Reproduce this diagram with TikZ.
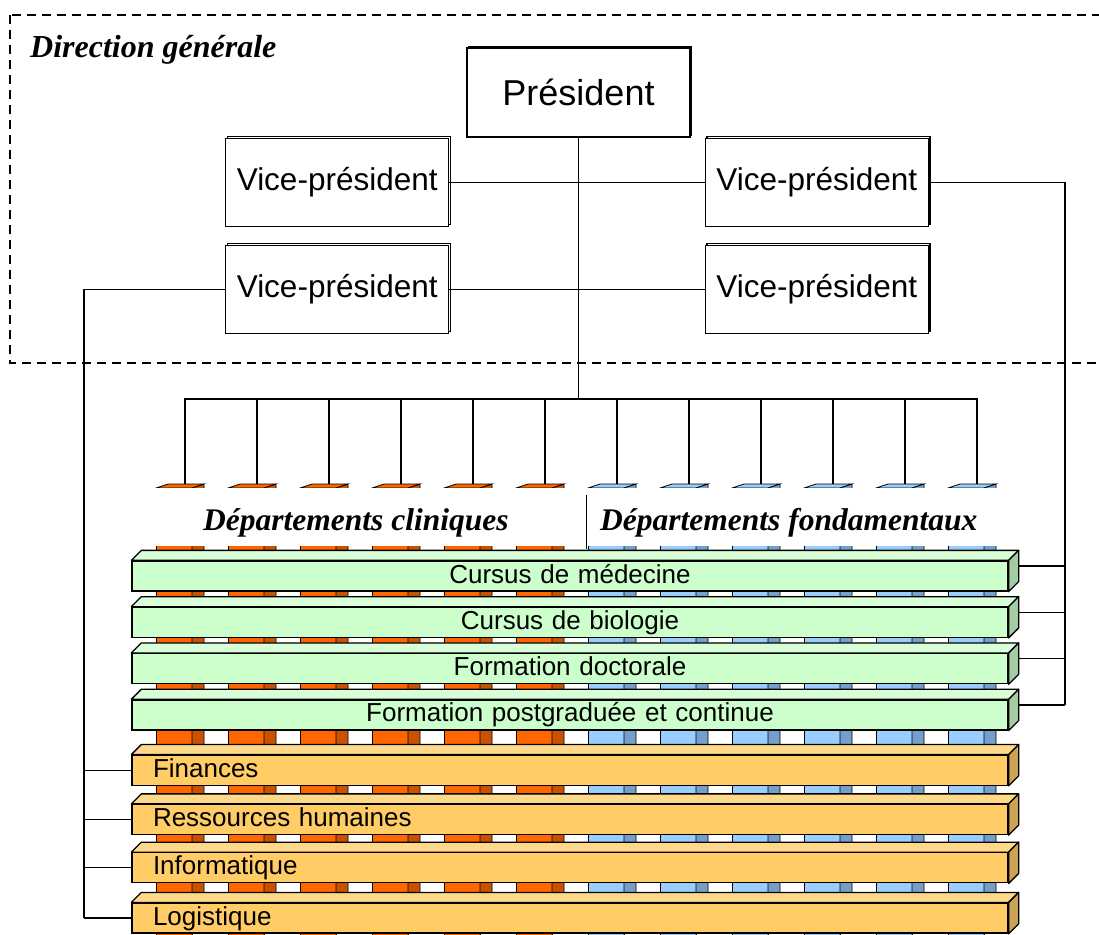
\documentclass[tikz,border=0pt]{standalone}
\usepackage{fontspec}
\setmainfont{Liberation Serif}
\setsansfont{Liberation Sans}
\usetikzlibrary{positioning, shadows}

\definecolor{clinFront}{HTML}{FF6600}
\definecolor{clinSide}{HTML}{C85200}
\definecolor{fondFront}{HTML}{99CCFF}
\definecolor{fondSide}{HTML}{76A0CB}
\definecolor{cursFront}{HTML}{CCFFCC}
\definecolor{cursTop}{HTML}{D8FFD8}
\definecolor{cursSide}{HTML}{A3CCA3}
\definecolor{servFront}{HTML}{FFCC66}
\definecolor{servTop}{HTML}{FFD98A}
\definecolor{servSide}{HTML}{CCA352}

\tikzset{
	chief/.style={draw, fill=white, line width=1.3pt, minimum width=223pt, minimum height=88pt, inner sep=0pt,
		font=\sffamily\fontsize{31.5}{36}\selectfont, copy shadow={shadow xshift=1.8pt, shadow yshift=1.8pt}},
	bar/.style={draw, line width=1.3pt, inner xsep=21pt, inner ysep=0pt, text width=834pt,
		text height=22pt, text depth=8pt, font=\sffamily\fontsize{26}{30}\selectfont},
	curs/.style={bar, fill=cursFront, align=center},
	serv/.style={bar, fill=servFront, align=left},
	dept/.style={inner sep=0pt, anchor=base west, font=\rmfamily\bfseries\itshape\fontsize{31.5}{36}\selectfont},
	link/.style={line width=1.3pt},
	column/.style={line width=0.8pt},
}

\begin{document}
\begin{tikzpicture}[x=1pt, y=-1pt]
	\useasboundingbox (0,0) rectangle (1099,934);
	\clip (0,0) rectangle (1099,934);

	% direction generale
	\draw[line width=1.3pt, dash pattern=on 9pt off 6pt] (10,15) rectangle (1130,363);
	\node[dept, font=\rmfamily\bfseries\itshape\fontsize{32}{36}\selectfont] (dirLabel) at (30,57) {Direction générale};

	\node[chief, minimum height=89pt, font=\sffamily\fontsize{36}{40}\selectfont] (pres) at (578.5,92.5) {Président};
	\node[chief, below left=0pt and 17pt of pres] (vpTL) {Vice-président};
	\node[chief, below right=0pt and 14pt of pres] (vpTR) {Vice-président};
	\node[chief, below=18pt of vpTL] (vpBL) {Vice-président};
	\node[chief, below=18pt of vpTR] (vpBR) {Vice-président};

	% departement columns
	\foreach \x [count=\k] in {156,228,...,516} {
		\filldraw[column, fill=clinFront] (\x,488) rectangle (\x+36,940);
		\filldraw[column, fill=clinFront] (\x,488) -- (\x+12,484) -- (\x+48,484) -- (\x+36,488) -- cycle;
		\filldraw[column, fill=clinSide] (\x+36,488) -- (\x+48,484) -- (\x+48,926) -- (\x+36,934) -- cycle;
		\coordinate (clin\k) at (\x+29,484);
	}
	\foreach \x [count=\k] in {588,660,...,948} {
		\filldraw[column, fill=fondFront] (\x,488) rectangle (\x+36,940);
		\filldraw[column, fill=fondFront] (\x,488) -- (\x+12,484) -- (\x+48,484) -- (\x+36,488) -- cycle;
		\filldraw[column, fill=fondSide] (\x+36,488) -- (\x+48,484) -- (\x+48,926) -- (\x+36,934) -- cycle;
		\coordinate (fond\k) at (\x+29,484);
	}

	\fill[white] (153,488) rectangle (1002,546);
	\draw[line width=0.8pt] (586,495) -- (586,549);
	\node[dept] (clinLabel) at (203,530) {Départements cliniques};
	\node[dept] (fondLabel) at (600,530) {Départements fondamentaux};

	% cursus and services
	\node[curs] (cursMed) at (570,576) {Cursus de médecine};
	\node[curs, below=15pt of cursMed] (cursBio) {Cursus de biologie};
	\node[curs, below=15pt of cursBio] (formDoc) {Formation doctorale};
	\node[curs, below=15pt of formDoc] (formCont) {Formation postgraduée et continue};
	\node[serv, below=24pt of formCont] (fin) {Finances};
	\node[serv, below=18pt of fin] (rh) {Ressources humaines};
	\node[serv, below=17pt of rh] (info) {Informatique};
	\node[serv, below=19pt of info] (logi) {Logistique};

	\foreach \b/\tone in {cursMed/curs, cursBio/curs, formDoc/curs, formCont/curs, fin/serv, rh/serv, info/serv, logi/serv} {
		\filldraw[link, fill=\tone Top, line join=round] (\b.north west) -- ++(10,-10) -- ([shift={(10,-10)}]\b.north east) -- (\b.north east) -- cycle;
		\filldraw[link, fill=\tone Side, line join=round] (\b.north east) -- ++(10,-10) -- ([shift={(10,-10)}]\b.south east) -- (\b.south east) -- cycle;
		\coordinate (\b-s) at ([shift={(10,-10)}]\b.east);
	}

	% links
	\coordinate (hub) at (pres.south |- 0,399);
	\coordinate (rbus) at (1065,0);
	\coordinate (lbus) at (84,0);
	\draw[link] (vpTL) -- (vpTR);
	\draw[link] (vpBL) -- (vpBR);
	\draw[link] (pres.south) -- (hub);
	\foreach \k in {1,...,6} {
		\draw[link] (clin\k) |- (hub);
		\draw[link] (fond\k) |- (hub);
	}
	\draw[link] (vpTR.east) -| (formCont-s -| rbus);
	\foreach \b in {cursMed, cursBio, formDoc, formCont}
		\draw[link] (\b-s) -- (\b-s -| rbus);
	\draw[link] (vpBL.west) -| (logi.west -| lbus);
	\foreach \b in {fin, rh, info, logi}
		\draw[link] (\b.west) -- (\b.west -| lbus);

\end{tikzpicture}
\end{document}
